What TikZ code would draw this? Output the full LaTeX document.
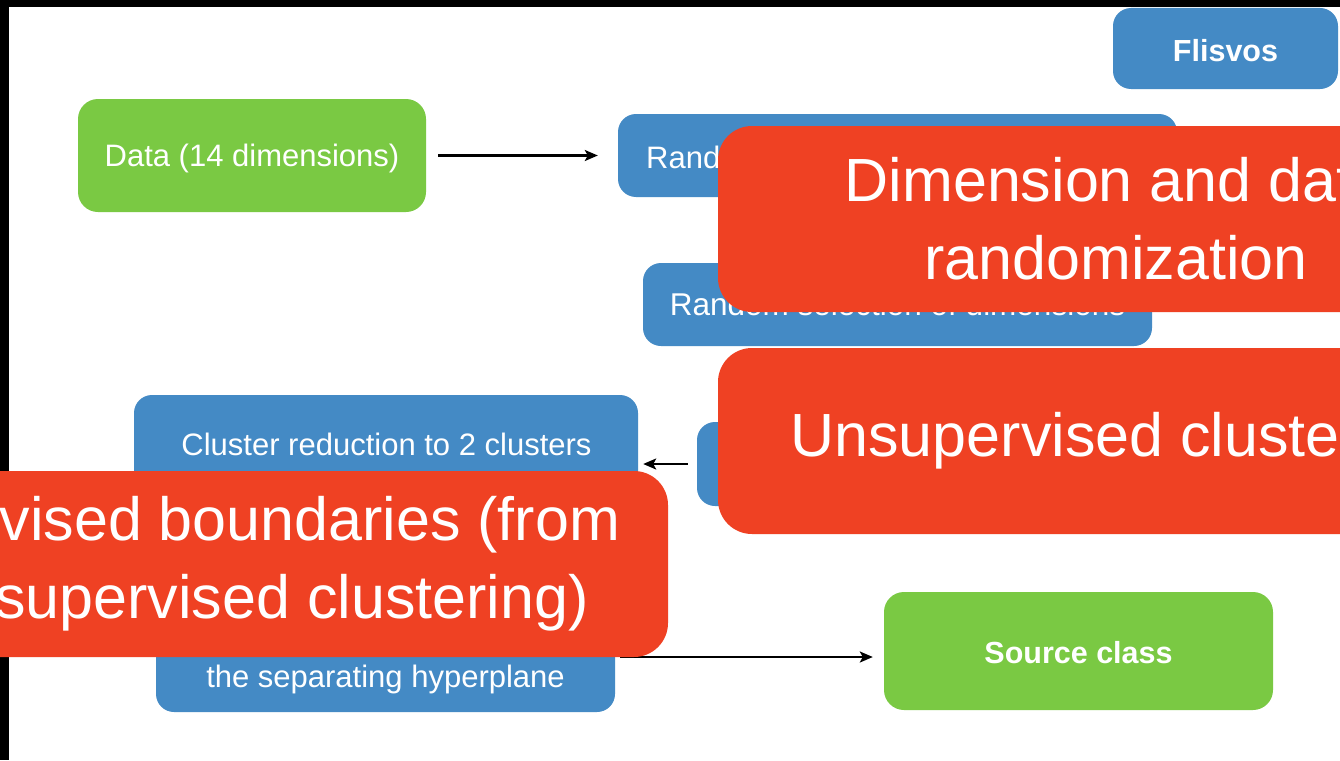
\documentclass[tikz,border=0pt]{standalone}
\usepackage{fontspec}
\setmainfont{Liberation Sans}
\usetikzlibrary{arrows.meta}
\definecolor{kgreen}{HTML}{7AC943}
\definecolor{kblue}{HTML}{448AC5}
\definecolor{kred}{HTML}{EF4123}
\begin{document}
\begin{tikzpicture}[x=1pt,y=-1pt,
  box/.style={rectangle, rounded corners=18pt, inner sep=0pt, text=white, text height=22pt, text depth=0pt, font=\fontsize{31}{37}\selectfont},
  bluebox/.style={box, fill=kblue},
  greenbox/.style={box, fill=kgreen, rounded corners=20pt},
  boldtext/.style={font=\bfseries\fontsize{30.5}{36}\selectfont},
  redbox/.style={rectangle, rounded corners=34pt, fill=kred, text=white, inner sep=0pt, align=center, font=\fontsize{61}{78}\selectfont},
  conn/.style={line width=2.3pt, -{Stealth[length=13pt,width=11pt,inset=3pt]}},
  lbl/.style={text=white, inner sep=0pt, text height=22pt, text depth=0pt, font=\fontsize{31}{37}\selectfont},
]
\useasboundingbox (0,0) rectangle (1340,760);
\clip (0,0) rectangle (1340,760);
\fill[white] (0,0) rectangle (1340,760);
\fill[black] (0,0) rectangle (1340,7);
\fill[black] (0,0) rectangle (9,760);

% boxes
\node[greenbox, minimum width=348pt, minimum height=113pt] (data) at (252,155.5) {Data (14 dimensions)};
\node[bluebox, boldtext, minimum width=225pt, minimum height=81pt, text height=25pt] (flis) at (1225.5,48.5) {Flisvos};
\node[bluebox, minimum width=559pt, minimum height=83pt] (randdata) at (897.5,155.5) {};
\node[lbl, anchor=west] (randtxt) at (646,157) {Rand};
\node[bluebox, minimum width=509pt, minimum height=83pt, font=\fontsize{31.5}{37}\selectfont] (randdim) at (897.5,304.5) {Random selection of dimensions};
\node[bluebox, minimum width=504pt, minimum height=138pt] (clred) at (386,464) {};
\node[lbl] (cltxt) at (386.5,444) {Cluster reduction to 2 clusters};
\node[bluebox, minimum width=400pt, minimum height=84pt] (uclu) at (897,464) {};
\node[bluebox, minimum width=459pt, minimum height=110pt] (hyp) at (385.5,657) {};
\node[lbl] (hyptxt) at (385.5,676) {the separating hyperplane};
\node[greenbox, boldtext, minimum width=389pt, minimum height=118pt, text height=25pt] (src) at (1078.5,651) {Source class};

% connectors
\draw[conn, shorten <=12pt, shorten >=20pt] (data) -- (randdata);
\draw[conn, shorten <=9pt, shorten >=5pt] (uclu.west) -- (clred.east);
\draw[conn, shorten <=5pt, shorten >=11pt] (hyp.east) -- (hyp.east -| src.west);

% overlay callouts
\node[redbox, minimum width=796pt, minimum height=186pt] (r1) at (1116,219) {Dimension and data\\randomization};
\node[redbox, minimum width=796pt, minimum height=186pt] (r2) at (1116,441) {Unsupervised clustering};
\node[redbox, minimum width=850pt, minimum height=186pt] (r3) at (243,564) {Supervised boundaries (from\hspace*{29pt}\\\hspace*{30pt}unsupervised clustering)};
\end{tikzpicture}
\end{document}
